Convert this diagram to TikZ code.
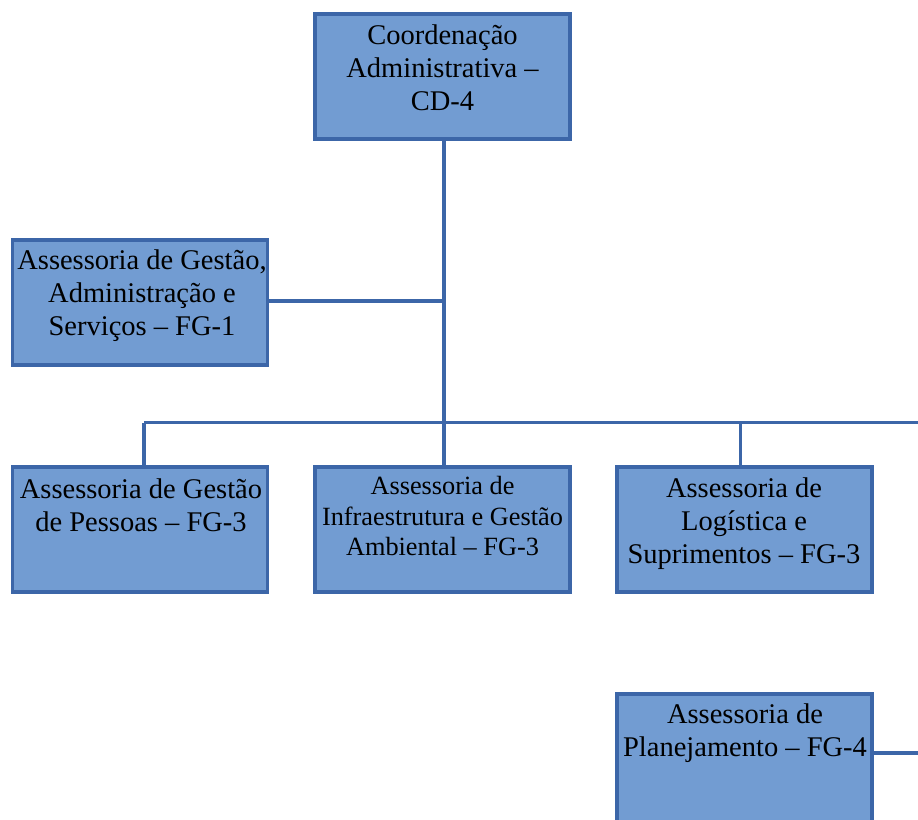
\documentclass[tikz,border=0pt]{standalone}
\usepackage{fontspec}
\setmainfont{Liberation Serif}
\definecolor{boxfill}{RGB}{114,156,210}
\definecolor{boxline}{RGB}{60,102,168}
\newcommand\mylines[1]{\begin{tabular}[t]{@{}c@{}}#1\end{tabular}}
\begin{document}
\begin{tikzpicture}[x=1pt,y=-1pt,
  orgbox/.style={draw=boxline, fill=boxfill, line width=3.6pt, rectangle,
    minimum width=255pt, minimum height=125.5pt, inner sep=0pt, outer sep=0pt},
  bigtxt/.style={anchor=base, inner sep=0pt, font=\fontsize{28.5}{33}\selectfont},
  smalltxt/.style={anchor=base, inner sep=0pt, font=\fontsize{26.3}{30.5}\selectfont},
  conn/.style={draw=boxline, line width=3.4pt}]
\useasboundingbox (0,0) rectangle (918,819);
% boxes
\node[orgbox] (top) at (442.5,76.5) {};
\node[orgbox] (left) at (140,302.5) {};
\node[orgbox] (b1) at (140,529.5) {};
\node[orgbox] (b2) at (442.5,529.5) {};
\node[orgbox] (b3) at (744.5,529.5) {};
\node[orgbox, minimum height=132pt] (b4) at (744.5,760) {};
% texts
\node[bigtxt] (ttop) at (442.5,44.5) {\mylines{Coordenação\\Administrativa –\\CD-4}};
\node[bigtxt] (tleft) at (142,269) {\mylines{Assessoria de Gestão,\\Administração e\\Serviços – FG-1}};
\node[bigtxt] (tb1) at (141,498.5) {\mylines{Assessoria de Gestão\\de Pessoas – FG-3}};
\node[smalltxt] (tb2) at (442.5,494.5) {\mylines{Assessoria de\\Infraestrutura e Gestão\\Ambiental – FG-3}};
\node[bigtxt] (tb3) at (744,497) {\mylines{Assessoria de\\Logística e\\Suprimentos – FG-3}};
\node[bigtxt] (tb4) at (745,723.5) {\mylines{Assessoria de\\Planejamento – FG-4}};
% connectors
\coordinate (jmain) at (444,422.5);
\coordinate (busL) at (144,422.5);
\coordinate (busR) at (920,422.5);
\coordinate (jleft) at (444,301);
\coordinate (farR) at (920,753);
\coordinate (b3top) at ([xshift=-4pt]b3.north);
\draw[conn] ([xshift=1.5pt]top.south) -- (jmain) -- ([xshift=1.5pt]b2.north);
\draw[conn] ([yshift=1.5pt]left.east) -- (jleft);
\draw[conn] (busL) -- (busR);
\draw[conn] ([xshift=4pt]b1.north) -- (busL);
\draw[conn] (b3top) -- (b3top |- busR);
\draw[conn] (b4.east |- farR) -- (farR);
\end{tikzpicture}
\end{document}
